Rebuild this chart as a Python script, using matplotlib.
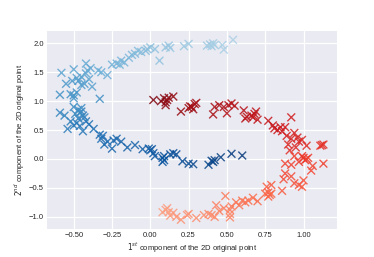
import numpy as np
import matplotlib
matplotlib.use('Agg')
import matplotlib.pyplot as plt

# upper moon, listed from its dark end (right, near y=0) to its light end
blue_x = [0.60, 0.53, 0.46, 0.42, 0.41, 0.40, 0.38, 0.28, 0.25, 0.21,
          0.17, 0.15, 0.13, 0.09, 0.08, 0.09, 0.08, 0.03, 0.02, 0.01,
          0.00, -0.01, -0.05, -0.10, -0.15, -0.19, -0.22, -0.25, -0.24, -0.28,
          -0.30, -0.32, -0.33, -0.31, -0.37, -0.40, -0.42, -0.44, -0.44, -0.46,
          -0.48, -0.50, -0.54, -0.52, -0.47, -0.45, -0.43, -0.56, -0.59, -0.49,
          -0.46, -0.50, -0.47, -0.45, -0.33, -0.59, -0.52, -0.50, -0.48, -0.50,
          -0.55, -0.51, -0.47, -0.45, -0.43, -0.48, -0.45, -0.38, -0.40, -0.58,
          -0.50, -0.42, -0.41, -0.39, -0.42, -0.34, -0.32, -0.28, -0.25, -0.22,
          -0.20, -0.19, -0.17, -0.14, -0.12, -0.10, -0.08, -0.06, -0.03, -0.02,
          0.00, 0.03, 0.06, 0.10, 0.12, 0.13, 0.22, 0.25, 0.37, 0.39,
          0.40, 0.41, 0.42, 0.47, 0.48, 0.54]
blue_y = [0.06, 0.09, 0.03, -0.02, -0.05, -0.03, -0.10, -0.09, -0.08, -0.04,
          0.08, 0.10, 0.08, 0.05, 0.02, -0.02, -0.05, 0.05, 0.10, 0.17,
          0.15, 0.18, 0.17, 0.24, 0.20, 0.30, 0.35, 0.18, 0.32, 0.30,
          0.25, 0.35, 0.42, 0.40, 0.52, 0.60, 0.65, 0.75, 0.48, 0.57,
          0.62, 0.58, 0.52, 0.65, 0.70, 0.82, 0.72, 0.75, 0.80, 0.78,
          0.80, 0.90, 0.85, 0.88, 1.04, 1.11, 1.12, 1.10, 1.15, 1.05,
          1.30, 1.35, 1.35, 1.28, 1.30, 1.40, 1.42, 1.25, 1.38, 1.49,
          1.55, 1.48, 1.53, 1.57, 1.65, 1.53, 1.50, 1.45, 1.63, 1.65,
          1.63, 1.70, 1.67, 1.75, 1.80, 1.82, 1.87, 1.85, 1.87, 1.90,
          1.93, 1.90, 1.70, 1.93, 1.96, 1.92, 1.95, 1.99, 1.96, 1.98,
          1.95, 2.00, 1.97, 1.97, 1.89, 2.06]

# lower moon, listed from its dark end (top left) to its light end (bottom)
red_x = [0.02, 0.07, 0.09, 0.10, 0.12, 0.10, 0.15, 0.11, 0.20, 0.25,
         0.27, 0.28, 0.29, 0.30, 0.26, 0.41, 0.42, 0.45, 0.48, 0.51,
         0.53, 0.50, 0.55, 0.61, 0.62, 0.63, 0.66, 0.68, 0.69, 0.70,
         0.67, 0.77, 0.80, 0.81, 0.83, 0.85, 0.86, 0.88, 0.92, 0.89,
         0.94, 0.96, 0.92, 0.97, 0.99, 0.90, 1.02, 0.95, 0.91, 1.12,
         1.13, 1.11, 0.99, 1.00, 1.01, 1.02, 0.97, 0.94, 1.03, 1.13,
         0.92, 0.88, 1.06, 1.05, 0.88, 0.92, 0.87, 0.94, 0.97, 1.00,
         0.99, 0.86, 0.79, 0.76, 0.77, 0.78, 0.77, 0.75, 0.79, 0.70,
         0.67, 0.64, 0.62, 0.60, 0.58, 0.56, 0.53, 0.52, 0.49, 0.48,
         0.45, 0.43, 0.52, 0.52, 0.42, 0.40, 0.38, 0.35, 0.30, 0.25,
         0.24, 0.20, 0.17, 0.15, 0.13, 0.11, 0.10, 0.12, 0.08]
red_y = [1.02, 1.00, 1.05, 0.98, 1.06, 0.93, 1.08, 1.02, 0.82, 0.88,
         0.90, 0.86, 0.95, 0.97, 0.91, 0.77, 0.90, 0.93, 0.90, 0.93,
         0.96, 0.79, 0.92, 0.84, 0.70, 0.73, 0.75, 0.78, 0.82, 0.68,
         0.72, 0.66, 0.58, 0.53, 0.50, 0.55, 0.48, 0.55, 0.72, 0.40,
         0.45, 0.37, 0.35, 0.30, 0.33, 0.25, 0.23, 0.20, 0.15, 0.24,
         0.25, 0.23, 0.05, 0.02, -0.02, 0.00, -0.05, 0.05, 0.02, -0.08,
         -0.10, -0.08, -0.12, -0.20, -0.25, -0.30, -0.35, -0.42, -0.45, -0.37,
         -0.48, -0.55, -0.45, -0.48, -0.58, -0.62, -0.65, -0.60, -0.60, -0.73,
         -0.67, -0.72, -0.75, -0.72, -0.80, -0.75, -0.82, -0.88, -0.64, -0.85,
         -0.90, -0.80, -1.01, -0.95, -1.00, -0.97, -0.95, -0.97, -1.02, -0.95,
         -0.97, -1.05, -1.00, -0.93, -0.98, -0.85, -0.88, -0.92, -0.92]

x_ticks = [-0.50, -0.25, 0.00, 0.25, 0.50, 0.75, 1.00]
y_ticks = [-1.0, -0.5, 0.0, 0.5, 1.0, 1.5, 2.0]


def main():
    plt.style.use('seaborn-v0_8-darkgrid')
    plt.rcParams['font.family'] = ['Liberation Sans', 'DejaVu Sans']

    fig, ax = plt.subplots(figsize=(3.74, 2.57), dpi=100)

    # colour follows the position of each point along its moon
    cb = np.arange(len(blue_x)) / (len(blue_x) - 1)
    cr = np.arange(len(red_x)) / (len(red_x) - 1)
    ax.scatter(blue_x, blue_y, c=plt.cm.Blues(0.95 - 0.62 * cb), marker='x',
               s=32, linewidths=1.0, alpha=0.85)
    ax.scatter(red_x, red_y, c=plt.cm.Reds(0.95 - 0.62 * cr), marker='x',
               s=32, linewidths=1.0, alpha=0.85)

    ax.set_xticks(x_ticks)
    ax.set_yticks(y_ticks)
    ax.tick_params(labelsize=5.5, pad=2)
    ax.grid(True, color='white', linewidth=0.9)
    ax.set_xlabel(r'$1^{st}$ component of the 2D original point', fontsize=5.5, labelpad=1.5)
    ax.set_ylabel(r'$2^{nd}$ component of the 2D original point', fontsize=5.5, labelpad=1.5)

    fig.savefig('out.png', dpi=100)


if __name__ == '__main__':
    main()
